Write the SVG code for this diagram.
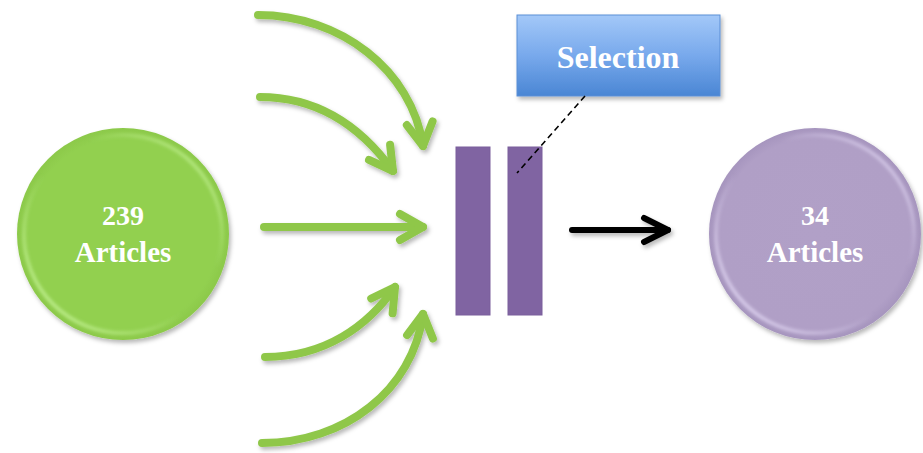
<svg xmlns="http://www.w3.org/2000/svg" width="923" height="453" viewBox="0 0 923 453">
  <defs>
    <style>
      .label { font-family: "Liberation Serif", "Times New Roman", serif; font-weight: bold; fill: #ffffff; text-anchor: middle; }
      .flow { fill: none; stroke: #8fc74a; stroke-width: 8; stroke-linecap: round; marker-end: url(#headGreen); filter: url(#soft); }
      .bar { fill: #8064a2; stroke: #7a5e9c; stroke-width: 1; }
    </style>
    <filter id="soft" filterUnits="userSpaceOnUse" x="0" y="0" width="923" height="453">
      <feDropShadow dx="2" dy="3" stdDeviation="2" flood-color="#000" flood-opacity="0.28"/>
    </filter>
    <filter id="rimBlur" filterUnits="userSpaceOnUse" x="0" y="0" width="923" height="453">
      <feGaussianBlur stdDeviation="1.6"/>
    </filter>
    <marker id="headGreen" viewBox="-32 -18 38 36" markerWidth="38" markerHeight="36" refX="0" refY="0" orient="auto" markerUnits="userSpaceOnUse">
      <path d="M -23 -13 L 0 0 L -23 13" fill="none" stroke="#8fc74a" stroke-width="8" stroke-linecap="round" stroke-linejoin="round"/>
    </marker>
    <marker id="headBlack" viewBox="-30 -16 36 32" markerWidth="36" markerHeight="32" refX="0" refY="0" orient="auto" markerUnits="userSpaceOnUse">
      <path d="M -24 -12 L 0 0 L -24 12" fill="none" stroke="#000" stroke-width="6" stroke-linecap="round" stroke-linejoin="round"/>
    </marker>
    <radialGradient id="greenBall" cx="0.5" cy="0.5" r="0.5">
      <stop offset="0" stop-color="#92d050"/>
      <stop offset="0.9" stop-color="#92d050"/>
      <stop offset="1" stop-color="#8cc94a"/>
    </radialGradient>
    <radialGradient id="purpleBall" cx="0.5" cy="0.5" r="0.5">
      <stop offset="0" stop-color="#b1a0c7"/>
      <stop offset="0.9" stop-color="#b09fc6"/>
      <stop offset="1" stop-color="#a695be"/>
    </radialGradient>
    <linearGradient id="rimGreen" x1="0" y1="1" x2="1" y2="0">
      <stop offset="0" stop-color="#c8f59a" stop-opacity="0.95"/>
      <stop offset="0.45" stop-color="#c8f59a" stop-opacity="0"/>
      <stop offset="0.65" stop-color="#c8f59a" stop-opacity="0"/>
      <stop offset="1" stop-color="#c8f59a" stop-opacity="0.9"/>
    </linearGradient>
    <linearGradient id="rimPurple" x1="0" y1="1" x2="1" y2="0">
      <stop offset="0" stop-color="#e6dcf7" stop-opacity="0.95"/>
      <stop offset="0.45" stop-color="#e6dcf7" stop-opacity="0"/>
      <stop offset="0.65" stop-color="#e6dcf7" stop-opacity="0"/>
      <stop offset="1" stop-color="#e6dcf7" stop-opacity="0.9"/>
    </linearGradient>
    <linearGradient id="blueBox" x1="0" y1="0" x2="0" y2="1">
      <stop offset="0" stop-color="#a3c8f8"/>
      <stop offset="0.5" stop-color="#78a9ec"/>
      <stop offset="1" stop-color="#4a86d4"/>
    </linearGradient>
  </defs>

  <rect width="923" height="453" fill="#ffffff"/>

  <!-- source pool -->
  <g id="source">
    <circle cx="123" cy="234" r="106" fill="url(#greenBall)" filter="url(#soft)"/>
    <circle cx="123" cy="234" r="99" fill="none" stroke="url(#rimGreen)" stroke-width="4" filter="url(#rimBlur)"/>
    <text class="label" x="123" y="225" font-size="28">239</text>
    <text class="label" x="123" y="262" font-size="29">Articles</text>
  </g>

  <!-- screening stage -->
  <g id="filter">
    <rect class="bar" x="456" y="147" width="34" height="168"/>
    <rect class="bar" x="508" y="147" width="34" height="168"/>
  </g>

  <!-- stage label -->
  <g id="selection">
    <rect x="517" y="15" width="203" height="81" fill="url(#blueBox)" stroke="#5b8fd6" stroke-width="1" filter="url(#soft)"/>
    <text class="label" x="618" y="68" font-size="32">Selection</text>
  </g>

  <!-- result pool -->
  <g id="result">
    <circle cx="815" cy="234" r="106" fill="url(#purpleBall)" filter="url(#soft)"/>
    <circle cx="815" cy="234" r="99" fill="none" stroke="url(#rimPurple)" stroke-width="4" filter="url(#rimBlur)"/>
    <text class="label" x="815" y="225" font-size="28">34</text>
    <text class="label" x="815" y="262" font-size="29">Articles</text>
  </g>

  <!-- connectors -->
  <g id="connectors">
    <path class="flow" d="M258,15 C340,15 412,70 423,146"/>
    <path class="flow" d="M260,97 C320,97 362,128 393,171"/>
    <path class="flow" d="M264,227 L423,227"/>
    <path class="flow" d="M265,357 C325,357 368,326 395,287"/>
    <path class="flow" d="M262,443 C345,443 413,390 423,314"/>
    <path d="M572,230 L668,230" fill="none" stroke="#000" stroke-width="6" stroke-linecap="round" marker-end="url(#headBlack)" filter="url(#soft)"/>
    <line x1="585" y1="96" x2="517" y2="173" stroke="#000" stroke-width="1.6" stroke-dasharray="6,4"/>
  </g>
</svg>
